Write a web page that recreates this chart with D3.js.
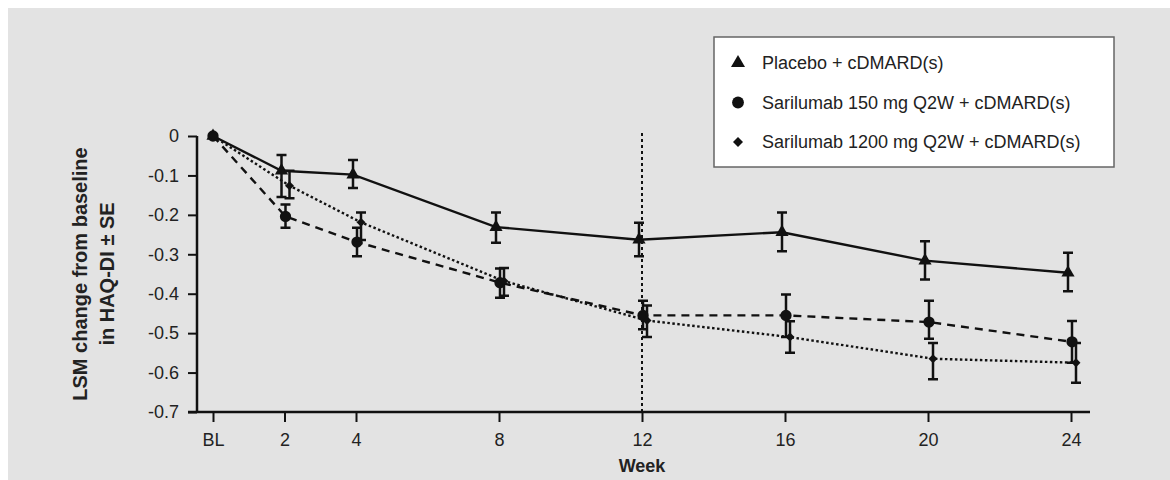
<!DOCTYPE html>
<html>
<head>
<meta charset="utf-8">
<script src="https://cdn.jsdelivr.net/npm/d3@7"></script>
<style>
  body { margin: 0; background: #fff; }
  svg { display: block; font-family: "Liberation Sans", Arial, sans-serif; }
</style>
</head>
<body>
<svg id="chart" width="1170" height="480"></svg>
<script>
// data
var weeks = [0, 2, 4, 8, 12, 16, 20, 24];
var weekLabels = ["BL", "2", "4", "8", "12", "16", "20", "24"];
var yTicks = [0, -0.1, -0.2, -0.3, -0.4, -0.5, -0.6, -0.7];
var yTickLabels = ["0", "-0.1", "-0.2", "-0.3", "-0.4", "-0.5", "-0.6", "-0.7"];

var seriesNames = ["Placebo + cDMARD(s)", "Sarilumab 150 mg Q2W + cDMARD(s)", "Sarilumab 1200 mg Q2W + cDMARD(s)"];

var placeboMean  = [0, -0.088, -0.098, -0.231, -0.263, -0.244, -0.316, -0.347];
var placeboUpper = [0, -0.048, -0.061, -0.194, -0.220, -0.194, -0.267, -0.296];
var placeboLower = [0, -0.155, -0.132, -0.271, -0.305, -0.292, -0.364, -0.394];

var sar150Mean  = [0, -0.204, -0.269, -0.372, -0.455, -0.455, -0.472, -0.522];
var sar150Upper = [0, -0.174, -0.233, -0.336, -0.418, -0.402, -0.418, -0.469];
var sar150Lower = [0, -0.233, -0.305, -0.410, -0.490, -0.510, -0.514, -0.575];

var sar200Mean  = [0, -0.126, -0.219, -0.368, -0.468, -0.510, -0.565, -0.575];
var sar200Upper = [0, -0.088, -0.194, -0.335, -0.430, -0.470, -0.525, -0.525];
var sar200Lower = [0, -0.158, -0.264, -0.405, -0.510, -0.550, -0.617, -0.626];

var svg = d3.select("#chart");

// grey panel
svg.append("rect")
    .attr("x", 8).attr("y", 8)
    .attr("width", 1162).attr("height", 472)
    .attr("fill", "#e3e3e3");

var x = d3.scaleLinear().domain([0, 24]).range([213, 1071]);
var y = d3.scaleLinear().domain([-0.7, 0]).range([412, 136]);

var ink = "#111";

// y axis
var yAxis = d3.axisLeft(y)
    .tickValues(yTicks)
    .tickFormat(function(d, i) { return yTickLabels[i]; })
    .tickSize(9)
    .tickPadding(9);
var gy = svg.append("g").attr("transform", "translate(197,0)").call(yAxis);
gy.select(".domain").attr("d", "M0," + y(0) + "V" + y(-0.7));

// x axis
var xAxis = d3.axisBottom(x)
    .tickValues(weeks)
    .tickFormat(function(d, i) { return weekLabels[i]; })
    .tickSize(10)
    .tickPadding(11);
var gx = svg.append("g").attr("transform", "translate(0,412)").call(xAxis);
gx.select(".domain").attr("d", "M188,0H1090");

[gx, gy].forEach(function(g) {
  g.select(".domain").attr("stroke", ink).attr("stroke-width", 2.5);
  g.selectAll(".tick line").attr("stroke", ink).attr("stroke-width", 2);
  g.selectAll(".tick text").attr("fill", "#222").attr("font-size", 18);
});

// vertical reference line at week 12
svg.append("line")
    .attr("x1", x(12)).attr("x2", x(12))
    .attr("y1", 133).attr("y2", 412)
    .attr("stroke", ink).attr("stroke-width", 2)
    .attr("stroke-dasharray", "3,3");

// axis titles
var yTitle = svg.append("text")
    .attr("transform", "translate(80,274) rotate(-90)")
    .attr("text-anchor", "middle")
    .attr("font-size", 20).attr("font-weight", "bold").attr("fill", "#222");
yTitle.append("tspan").attr("x", 0).attr("y", 7).text("LSM change from baseline");
yTitle.append("tspan").attr("x", 0).attr("y", 34).text("in HAQ-DI \u00b1 SE");

svg.append("text")
    .attr("x", x(12)).attr("y", 472)
    .attr("text-anchor", "middle")
    .attr("font-size", 18).attr("font-weight", "bold").attr("fill", "#222")
    .text("Week");

// diamond = square turned 45 degrees
var series = [
  { mean: placeboMean, upper: placeboUpper, lower: placeboLower, dx: -3, dash: null, shape: d3.symbolTriangle, size: 75, rot: 0 },
  { mean: sar150Mean, upper: sar150Upper, lower: sar150Lower, dx: 1, dash: "8,6", shape: d3.symbolCircle, size: 100, rot: 0 },
  { mean: sar200Mean, upper: sar200Upper, lower: sar200Lower, dx: 5, dash: "2.5,2.5", shape: d3.symbolSquare, size: 40, rot: 45 }
];

var line = d3.line();

series.forEach(function(s) {
  var pts = weeks.map(function(w, i) {
    return [x(w) + (i === 0 ? 0 : s.dx), y(s.mean[i])];
  });

  svg.append("path")
      .attr("d", line(pts))
      .attr("fill", "none")
      .attr("stroke", ink)
      .attr("stroke-width", 2.4)
      .attr("stroke-dasharray", s.dash);

  var g = svg.append("g");
  weeks.forEach(function(w, i) {
    var px = pts[i][0];
    if (s.upper[i] !== s.lower[i]) {
      var y1 = y(s.upper[i]), y2 = y(s.lower[i]);
      g.append("path")
          .attr("d", "M" + px + "," + y1 + "V" + y2 +
                     "M" + (px - 5) + "," + y1 + "H" + (px + 5) +
                     "M" + (px - 5) + "," + y2 + "H" + (px + 5))
          .attr("fill", "none")
          .attr("stroke", ink)
          .attr("stroke-width", 2.5);
    }
    g.append("path")
        .attr("d", d3.symbol().type(s.shape).size(s.size)())
        .attr("transform", "translate(" + px + "," + pts[i][1] + ") rotate(" + s.rot + ")")
        .attr("fill", ink);
  });
});

// legend
var legend = svg.append("g");
legend.append("rect")
    .attr("x", 714).attr("y", 37)
    .attr("width", 400).attr("height", 130)
    .attr("fill", "#fff")
    .attr("stroke", "#666")
    .attr("stroke-width", 1.5);

var legendRows = legend.selectAll("g.row")
    .data(series)
    .enter().append("g")
    .attr("class", "row")
    .attr("transform", function(d, i) { return "translate(738," + (63 + i * 39.5) + ")"; });

legendRows.append("path")
    .attr("d", function(d) { return d3.symbol().type(d.shape).size(d.size + 10)(); })
    .attr("transform", function(d) { return "rotate(" + d.rot + ")"; })
    .attr("fill", ink);

legendRows.append("text")
    .attr("x", 24)
    .attr("dy", "0.35em")
    .attr("font-size", 18)
    .attr("fill", "#222")
    .text(function(d, i) { return seriesNames[i]; });
</script>
</body>
</html>
